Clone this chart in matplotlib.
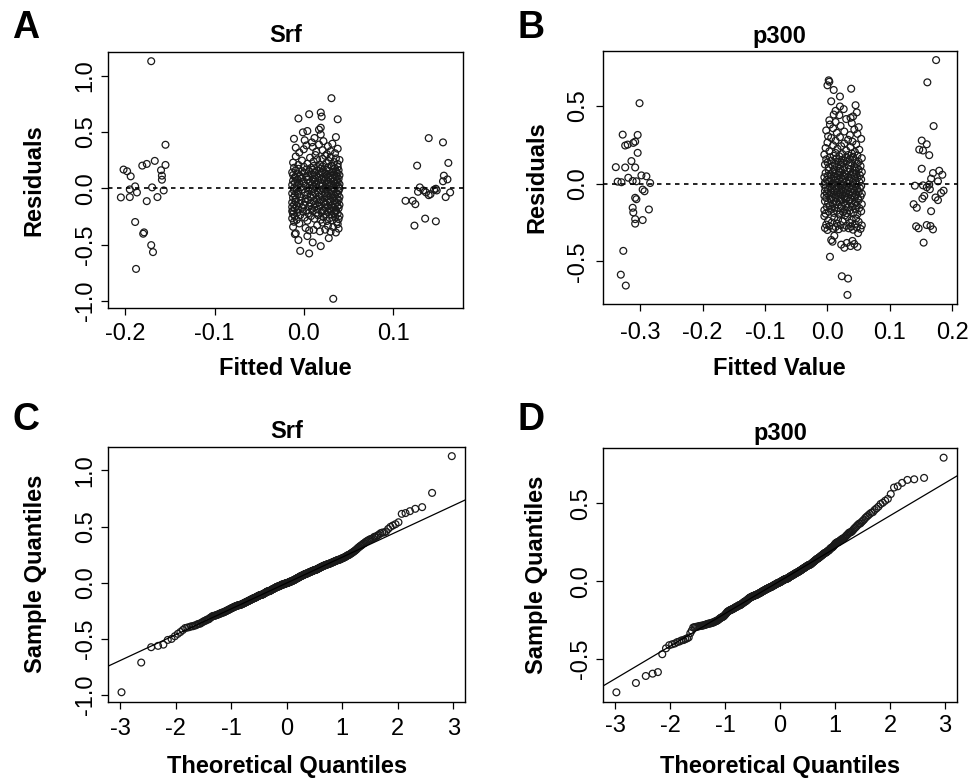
import matplotlib
matplotlib.use("Agg")
import matplotlib.pyplot as plt
import numpy as np
from statistics import NormalDist

plt.rcParams['font.family'] = ['Liberation Sans', 'DejaVu Sans']
plt.rcParams['axes.unicode_minus'] = False

# ---- Srf: residuals vs fitted value (fitted, residual) ----
srf_left = [
    (-0.171, 1.128), (-0.202, 0.167), (-0.198, 0.152), (-0.194, 0.107), (-0.181, 0.202),
    (-0.176, 0.217), (-0.167, 0.244), (-0.155, 0.387), (-0.155, 0.208), (-0.160, 0.161),
    (-0.159, 0.113), (-0.159, 0.077), (-0.157, -0.018), (-0.170, 0.009), (-0.164, -0.077),
    (-0.189, 0.018), (-0.195, -0.009), (-0.187, -0.036), (-0.205, -0.080), (-0.195, -0.077),
    (-0.176, -0.113), (-0.189, -0.298), (-0.179, -0.390), (-0.180, -0.402), (-0.171, -0.503),
    (-0.169, -0.565), (-0.188, -0.714),
]
srf_right = [
    (0.140, 0.446), (0.156, 0.408), (0.127, 0.202), (0.162, 0.226), (0.157, 0.113),
    (0.156, 0.063), (0.161, 0.080), (0.130, 0.009), (0.128, -0.030), (0.134, -0.018),
    (0.137, -0.036), (0.142, -0.051), (0.146, -0.012), (0.149, -0.018), (0.148, -0.003),
    (0.164, -0.036), (0.159, -0.077), (0.140, -0.060), (0.114, -0.110), (0.122, -0.110),
    (0.125, -0.140), (0.124, -0.330), (0.136, -0.268), (0.148, -0.292),
]
srf_center = [
    (0.033, -0.979), (0.006, -0.577), (-0.004, -0.554), (0.019, -0.512),
    (0.010, -0.479), (-0.006, -0.458), (0.028, -0.441), (0.004, -0.423), (-0.010, -0.406),
    (-0.009, -0.398), (0.036, -0.391), (0.030, -0.384), (0.018, -0.381), (0.006, -0.372),
    (0.011, -0.368), (0.024, -0.366), (0.039, -0.357), (0.002, -0.351), (0.033, -0.343),
    (-0.012, -0.341), (0.027, -0.332), (0.015, -0.327), (0.038, -0.316), (-0.005, -0.311),
    (0.021, -0.303),
    (0.037, -0.298), (-0.011, -0.296), (0.026, -0.289), (0.004, -0.287), (0.032, -0.283),
    (-0.008, -0.279), (0.019, -0.278), (0.039, -0.272), (0.012, -0.269), (-0.013, -0.266),
    (0.029, -0.264), (0.001, -0.259), (0.035, -0.255), (0.022, -0.254), (-0.010, -0.248),
    (0.008, -0.246), (0.040, -0.244), (0.016, -0.238), (-0.004, -0.237), (0.031, -0.233),
    (0.025, -0.229), (-0.012, -0.227), (0.038, -0.224), (0.005, -0.221), (0.014, -0.218),
    (0.034, -0.216), (-0.007, -0.213), (0.020, -0.211), (0.027, -0.209), (-0.001, -0.206),
    (0.036, -0.205), (0.010, -0.203), (-0.013, -0.202), (0.023, -0.201), (0.030, -0.200),
    (-0.012, -0.198), (0.021, -0.196), (0.003, -0.193), (0.036, -0.191), (-0.006, -0.188),
    (0.015, -0.186), (0.029, -0.185), (0.009, -0.181), (-0.010, -0.179), (0.039, -0.176),
    (0.024, -0.174), (-0.002, -0.172), (0.033, -0.169), (0.012, -0.167), (-0.013, -0.165),
    (0.027, -0.162), (0.006, -0.160), (0.038, -0.158), (-0.008, -0.155), (0.018, -0.153),
    (0.031, -0.151), (0.000, -0.148), (0.040, -0.146), (-0.011, -0.144), (0.013, -0.141),
    (0.025, -0.139), (0.035, -0.137), (-0.005, -0.135), (0.008, -0.132), (0.022, -0.130),
    (0.037, -0.128), (-0.013, -0.125), (0.017, -0.123), (0.030, -0.121), (0.002, -0.119),
    (-0.009, -0.117), (0.026, -0.114), (0.011, -0.112), (0.034, -0.110), (-0.003, -0.108),
    (0.019, -0.105), (0.039, -0.103), (0.005, -0.101),
    (0.028, -0.099), (-0.009, -0.097), (0.014, -0.094), (0.037, -0.091), (0.002, -0.089),
    (0.023, -0.087), (-0.012, -0.083), (0.032, -0.081), (0.008, -0.079), (0.040, -0.076),
    (0.017, -0.073), (-0.004, -0.071), (0.026, -0.069), (0.011, -0.066), (0.035, -0.064),
    (-0.010, -0.061), (0.020, -0.058), (0.004, -0.056), (0.038, -0.054), (-0.007, -0.051),
    (0.030, -0.049), (0.013, -0.046), (-0.013, -0.044), (0.024, -0.041), (0.036, -0.039),
    (0.001, -0.037), (0.016, -0.034), (0.033, -0.031), (-0.006, -0.029), (0.009, -0.027),
    (0.027, -0.024), (0.039, -0.022), (-0.011, -0.019), (0.019, -0.017), (0.005, -0.015),
    (0.031, -0.012), (-0.002, -0.010), (0.022, -0.008), (0.034, -0.007), (0.010, -0.005),
    (-0.008, -0.004), (0.025, -0.003), (0.040, -0.001),
    (0.015, 0.001), (-0.011, 0.003), (0.033, 0.005), (0.006, 0.007), (0.024, 0.009),
    (-0.003, 0.011), (0.039, 0.013), (0.011, 0.016), (0.029, 0.018), (-0.008, 0.020),
    (0.018, 0.022), (0.036, 0.024), (0.002, 0.026), (0.021, 0.028), (-0.013, 0.031),
    (0.031, 0.033), (0.009, 0.035), (0.040, 0.037), (0.014, 0.039), (-0.005, 0.041),
    (0.026, 0.043), (0.035, 0.045), (0.000, 0.047), (0.019, 0.049), (-0.010, 0.052),
    (0.038, 0.054), (0.007, 0.056), (0.028, 0.058), (0.012, 0.060), (-0.001, 0.062),
    (0.034, 0.064), (0.023, 0.066), (-0.012, 0.068), (0.016, 0.070), (0.037, 0.073),
    (0.004, 0.075), (0.030, 0.077), (-0.007, 0.079), (0.020, 0.081), (0.010, 0.083),
    (0.039, 0.085), (-0.004, 0.087), (0.025, 0.089), (0.013, 0.091), (0.032, 0.093),
    (-0.009, 0.095), (0.017, 0.096), (0.003, 0.098), (0.027, 0.099),
    (-0.010, 0.101), (0.022, 0.103), (0.037, 0.105), (0.005, 0.108), (-0.004, 0.110),
    (0.030, 0.112), (0.014, 0.114), (0.040, 0.117), (-0.012, 0.119), (0.026, 0.121),
    (0.009, 0.124), (0.034, 0.126), (0.018, 0.128), (-0.007, 0.131), (0.038, 0.133),
    (0.001, 0.135), (0.024, 0.137), (0.012, 0.140), (-0.013, 0.142), (0.032, 0.144),
    (0.020, 0.146), (0.006, 0.149), (0.036, 0.151), (-0.002, 0.153), (0.028, 0.156),
    (0.015, 0.158), (-0.009, 0.160), (0.039, 0.162), (0.010, 0.165), (0.025, 0.167),
    (0.003, 0.169), (0.033, 0.172), (-0.006, 0.174), (0.019, 0.176), (0.035, 0.178),
    (0.008, 0.181), (-0.011, 0.183), (0.027, 0.185), (0.016, 0.188), (0.038, 0.190),
    (0.000, 0.192), (0.021, 0.195), (0.031, 0.197), (0.011, 0.199),
    (0.031, 0.203), (-0.006, 0.208), (0.018, 0.212), (0.038, 0.216), (0.004, 0.219),
    (0.025, 0.224), (-0.012, 0.229), (0.034, 0.233), (0.011, 0.238), (0.028, 0.243),
    (-0.002, 0.247), (0.040, 0.252), (0.015, 0.257), (0.021, 0.262), (0.036, 0.266),
    (0.007, 0.272), (0.030, 0.277), (-0.009, 0.283), (0.024, 0.289), (0.013, 0.296),
    (0.026, 0.304), (0.035, 0.312), (-0.005, 0.318), (0.014, 0.326), (0.030, 0.331),
    (0.021, 0.339), (0.000, 0.347), (0.038, 0.352), (-0.009, 0.361), (0.010, 0.368),
    (0.027, 0.374), (0.003, 0.381), (0.017, 0.389), (0.032, 0.396),
    (0.009, 0.408), (0.022, 0.419), (0.001, 0.427), (-0.011, 0.440), (0.012, 0.447),
    (0.036, 0.455), (0.019, 0.478), (-0.001, 0.497),
    (0.004, 0.509), (0.017, 0.521), (0.019, 0.538),
    (0.038, 0.613), (-0.006, 0.620), (0.020, 0.637), (0.006, 0.658), (0.019, 0.673),
    (0.031, 0.800),
]

# ---- p300: residuals vs fitted value ----
p300_left = [
    (-0.301, 0.517), (-0.328, 0.315), (-0.304, 0.313), (-0.324, 0.245), (-0.320, 0.251),
    (-0.311, 0.262), (-0.308, 0.270), (-0.304, 0.198), (-0.314, 0.145), (-0.339, 0.106),
    (-0.324, 0.104), (-0.308, 0.104), (-0.319, 0.038), (-0.312, 0.017), (-0.336, 0.013),
    (-0.330, 0.009), (-0.306, 0.015), (-0.298, 0.053), (-0.290, 0.047), (-0.284, 0.004),
    (-0.296, -0.038), (-0.293, -0.049), (-0.308, -0.091), (-0.306, -0.100), (-0.312, -0.155),
    (-0.311, -0.185), (-0.308, -0.228), (-0.308, -0.257), (-0.296, -0.234), (-0.286, -0.166),
    (-0.327, -0.432), (-0.331, -0.585), (-0.323, -0.655),
]
p300_right = [
    (0.174, 0.794), (0.160, 0.651), (0.170, 0.370), (0.151, 0.277), (0.159, 0.253),
    (0.147, 0.219), (0.153, 0.213), (0.163, 0.183), (0.151, 0.096), (0.179, 0.083),
    (0.169, 0.068), (0.184, 0.057), (0.166, 0.032), (0.177, 0.015), (0.140, -0.013),
    (0.153, -0.011), (0.159, -0.023), (0.163, -0.006), (0.164, -0.036), (0.186, -0.045),
    (0.182, -0.060), (0.155, -0.079), (0.152, -0.096), (0.173, -0.089), (0.177, -0.106),
    (0.138, -0.132), (0.143, -0.155), (0.166, -0.177), (0.142, -0.274), (0.146, -0.287),
    (0.159, -0.266), (0.165, -0.272), (0.169, -0.294), (0.154, -0.379),
]
p300_center = [
    (0.032, -0.715), (0.033, -0.610), (0.023, -0.595),
    (0.004, -0.470), (0.027, -0.412), (0.048, -0.406), (0.037, -0.401),
    (0.022, -0.392), (0.043, -0.388), (0.031, -0.381), (0.008, -0.373), (0.040, -0.368),
    (0.006, -0.362), (0.011, -0.335), (0.049, -0.318),
    (0.000, -0.298), (0.041, -0.296), (0.018, -0.293), (0.053, -0.291), (0.009, -0.289),
    (0.034, -0.287), (-0.004, -0.285), (0.026, -0.283), (0.047, -0.281), (0.013, -0.279),
    (0.038, -0.276), (0.003, -0.273), (0.030, -0.271), (0.055, -0.268), (0.021, -0.266),
    (-0.002, -0.263), (0.044, -0.259), (0.015, -0.256), (0.036, -0.252), (0.007, -0.249),
    (0.050, -0.245), (0.024, -0.241), (0.001, -0.237), (0.039, -0.233), (0.017, -0.229),
    (0.046, -0.224), (0.011, -0.219), (0.032, -0.214), (-0.005, -0.209), (0.028, -0.204),
    (0.019, -0.198), (0.048, -0.195), (-0.003, -0.193), (0.031, -0.190), (0.010, -0.188),
    (0.042, -0.185), (0.025, -0.183), (0.002, -0.180), (0.054, -0.178), (0.015, -0.175),
    (0.036, -0.172), (-0.005, -0.170), (0.028, -0.167), (0.045, -0.165), (0.007, -0.162),
    (0.021, -0.160), (0.051, -0.157), (0.012, -0.155), (0.033, -0.152), (-0.001, -0.150),
    (0.040, -0.147), (0.023, -0.145), (0.004, -0.142), (0.047, -0.140), (0.017, -0.137),
    (0.030, -0.134), (0.055, -0.132), (0.009, -0.129), (0.038, -0.127), (0.001, -0.124),
    (0.026, -0.121), (0.044, -0.119), (0.014, -0.116), (-0.004, -0.113), (0.035, -0.111),
    (0.020, -0.108), (0.050, -0.106), (0.006, -0.103), (0.029, -0.101),
    (0.037, -0.099), (0.005, -0.097), (0.022, -0.096), (0.049, -0.094), (-0.002, -0.092),
    (0.031, -0.090), (0.013, -0.089), (0.044, -0.087), (0.008, -0.085), (0.027, -0.083),
    (0.053, -0.082), (0.017, -0.080), (-0.005, -0.078), (0.039, -0.076), (0.024, -0.075),
    (0.003, -0.073), (0.046, -0.071), (0.011, -0.069), (0.034, -0.068), (0.020, -0.066),
    (0.055, -0.064), (-0.001, -0.062), (0.029, -0.061), (0.041, -0.059), (0.015, -0.057),
    (0.006, -0.055), (0.050, -0.054), (0.026, -0.052), (0.036, -0.050), (0.010, -0.048),
    (-0.004, -0.047), (0.043, -0.045), (0.019, -0.043), (0.032, -0.041), (0.001, -0.040),
    (0.048, -0.038), (0.023, -0.036), (0.014, -0.034), (0.040, -0.033), (0.007, -0.031),
    (0.052, -0.029), (0.028, -0.027), (-0.003, -0.026), (0.035, -0.024), (0.018, -0.022),
    (0.045, -0.020), (0.004, -0.019), (0.030, -0.017), (0.054, -0.015), (0.012, -0.013),
    (0.038, -0.012), (0.021, -0.010), (-0.005, -0.008), (0.047, -0.006), (0.025, -0.005),
    (0.009, -0.003), (0.033, -0.001),
    (0.008, 0.001), (0.041, 0.003), (0.016, 0.005), (-0.004, 0.007), (0.030, 0.009),
    (0.051, 0.011), (0.003, 0.013), (0.024, 0.015), (0.045, 0.017), (0.012, 0.019),
    (0.035, 0.021), (-0.001, 0.023), (0.019, 0.025), (0.054, 0.027), (0.027, 0.029),
    (0.006, 0.031), (0.039, 0.033), (0.014, 0.035), (0.048, 0.037), (0.022, 0.039),
    (-0.005, 0.041), (0.033, 0.043), (0.010, 0.045), (0.043, 0.047), (0.026, 0.050),
    (0.001, 0.052), (0.052, 0.054), (0.017, 0.056), (0.037, 0.058), (0.005, 0.060),
    (0.029, 0.062), (0.046, 0.064), (0.013, 0.066), (-0.003, 0.068), (0.040, 0.070),
    (0.021, 0.073), (0.055, 0.075), (0.009, 0.077), (0.032, 0.079), (0.018, 0.081),
    (0.044, 0.084), (0.002, 0.086), (0.025, 0.088), (0.050, 0.090), (0.011, 0.092),
    (0.036, 0.095), (0.020, 0.097), (0.047, 0.099),
    (0.027, 0.102), (0.002, 0.105), (0.043, 0.107), (0.015, 0.110), (0.053, 0.113),
    (0.008, 0.115), (0.034, 0.118), (0.021, 0.121), (-0.004, 0.123), (0.047, 0.126),
    (0.012, 0.129), (0.038, 0.131), (0.025, 0.134), (0.000, 0.137), (0.050, 0.140),
    (0.018, 0.142), (0.031, 0.145), (0.006, 0.148), (0.044, 0.151), (0.023, 0.153),
    (-0.002, 0.156), (0.036, 0.159), (0.014, 0.162), (0.055, 0.164), (0.029, 0.167),
    (0.004, 0.170), (0.041, 0.173), (0.019, 0.176), (0.010, 0.179), (0.048, 0.181),
    (0.033, 0.184), (-0.005, 0.187), (0.024, 0.190), (0.039, 0.194), (0.013, 0.197),
    (0.044, 0.203), (0.003, 0.208), (0.030, 0.213), (0.051, 0.218), (0.016, 0.224),
    (-0.003, 0.229), (0.037, 0.235), (0.022, 0.241), (0.009, 0.247), (0.046, 0.252),
    (0.027, 0.258), (0.000, 0.264), (0.040, 0.270), (0.013, 0.276), (0.033, 0.282),
    (0.054, 0.288), (0.006, 0.294), (0.020, 0.299),
    (0.001, 0.305), (0.036, 0.312), (0.048, 0.320), (0.015, 0.327), (0.027, 0.335),
    (-0.002, 0.342), (0.043, 0.348), (0.009, 0.356), (0.050, 0.363), (0.021, 0.371),
    (0.004, 0.380), (0.039, 0.388), (0.013, 0.396),
    (0.003, 0.407), (0.030, 0.415), (0.037, 0.423), (0.041, 0.432), (0.019, 0.440),
    (0.010, 0.444), (0.047, 0.458), (0.013, 0.468), (0.026, 0.479), (0.020, 0.496),
    (0.045, 0.504), (0.006, 0.529), (0.020, 0.560),
    (0.010, 0.602), (0.038, 0.610), (0.000, 0.632), (0.003, 0.655), (0.002, 0.664),
]

srf_xticks = [-0.2, -0.1, 0.0, 0.1]
srf_yticks = [-1.0, -0.5, 0.0, 0.5, 1.0]
p300_xticks = [-0.3, -0.2, -0.1, 0.0, 0.1, 0.2]
p300_yticks = [-0.5, 0.0, 0.5]
qq_xticks = [-3, -2, -1, 0, 1, 2, 3]

PX = 0.72  # points per pixel at dpi 100
W, H = 973, 783

# panel box (left, top, right, bottom) in px and text offsets in px
layout = {
    'A': dict(box=(107.7, 51.7, 463.3, 308.3), title=10, xtick=31.7, xlab=66.7, ytick=16.0, ylab=67.7),
    'B': dict(box=(602.7, 50.7, 956.7, 304.3), title=7.5, xtick=35.0, xlab=70.7, ytick=19.0, ylab=59.4),
    'C': dict(box=(108.3, 446.7, 465.0, 701.7), title=8.4, xtick=33.3, xlab=71.6, ytick=16.6, ylab=66.6),
    'D': dict(box=(603.3, 448.3, 956.7, 701.7), title=8.3, xtick=30.0, xlab=71.6, ytick=16.6, ylab=60.0),
}
letters = {'A': (12, 38), 'B': (517, 38), 'C': (12, 430), 'D': (517, 430)}


def add_panel(fig, key):
    l, t, r, b = layout[key]['box']
    return fig.add_axes([l / W, 1 - b / H, (r - l) / W, (b - t) / H])


def dress(ax, key, title, xlabel, ylabel, xticks, yticks, xfmt, yfmt):
    lay = layout[key]
    tick_len = 6.7
    ax.set_xticks(xticks)
    ax.set_xticklabels([xfmt.format(v) for v in xticks])
    ax.set_yticks(yticks)
    ax.set_yticklabels([yfmt.format(v) for v in yticks])
    ax.tick_params(direction='out', length=tick_len * PX, width=0.9, labelsize=17)
    ax.tick_params(axis='x', pad=(lay['xtick'] - tick_len) * PX)
    ax.tick_params(axis='y', pad=(lay['ytick'] - tick_len) * PX)
    for lbl in ax.get_xticklabels():
        lbl.set_va('baseline')
    for lbl in ax.get_yticklabels():
        lbl.set(rotation=90, ha='center', va='baseline', rotation_mode='anchor')
    for sp in ax.spines.values():
        sp.set_linewidth(1.0)
    ax.set_title(title, fontsize=17, fontweight='bold', pad=lay['title'] * PX)
    ax.annotate(xlabel, xy=(0.5, 0), xycoords='axes fraction',
                xytext=(0, -lay['xlab'] * PX), textcoords='offset points',
                ha='center', va='baseline', fontsize=17, fontweight='bold')
    ax.annotate(ylabel, xy=(0, 0.5), xycoords='axes fraction',
                xytext=(-lay['ylab'] * PX, 0), textcoords='offset points',
                ha='center', va='baseline', rotation=90, rotation_mode='anchor',
                fontsize=17, fontweight='bold')


def open_circles(ax, x, y):
    ax.scatter(x, y, s=24, facecolors='none', edgecolors='#1a1a1a', linewidths=0.9)


def qq(res):
    res = np.sort(np.asarray(res))
    n = len(res)
    a = 0.375 if n <= 10 else 0.5
    p = (np.arange(1, n + 1) - a) / (n + 1 - 2 * a)
    theo = np.array([NormalDist().inv_cdf(v) for v in p])
    q_y = np.quantile(res, [0.25, 0.75])
    q_x = np.array([NormalDist().inv_cdf(0.25), NormalDist().inv_cdf(0.75)])
    slope = (q_y[1] - q_y[0]) / (q_x[1] - q_x[0])
    icpt = q_y[0] - slope * q_x[0]
    return theo, res, slope, icpt


fig = plt.figure(figsize=(W / 100, H / 100), dpi=100)

groups = {'Srf': (srf_left, srf_center, srf_right), 'p300': (p300_left, p300_center, p300_right)}
panels = [('A', 'C', 'Srf', srf_xticks, srf_yticks), ('B', 'D', 'p300', p300_xticks, p300_yticks)]

for top_key, qq_key, name, xt, yt in panels:
    pts = np.array(groups[name][0] + groups[name][1] + groups[name][2])

    ax = add_panel(fig, top_key)
    open_circles(ax, pts[:, 0], pts[:, 1])
    ax.margins(0.04)
    ax.axhline(0, color='black', lw=1.2, ls=(0, (2.7, 2.7)))
    dress(ax, top_key, name, 'Fitted Value', 'Residuals', xt, yt, '{:.1f}', '{:.1f}')

    theo, samp, slope, icpt = qq(pts[:, 1])
    ax2 = add_panel(fig, qq_key)
    open_circles(ax2, theo, samp)
    ax2.margins(0.04)
    ax2.set_xlim(ax2.get_xlim())
    ax2.set_ylim(ax2.get_ylim())
    ax2.axline((0, icpt), slope=slope, color='black', lw=0.9)
    dress(ax2, qq_key, name, 'Theoretical Quantiles', 'Sample Quantiles',
          qq_xticks, yt, '{:d}', '{:.1f}')

for k, (lx, ly) in letters.items():
    fig.text(lx / W, 1 - ly / H, k, fontsize=27, fontweight='bold', va='baseline', ha='left')

fig.savefig('out.png', dpi=100)
